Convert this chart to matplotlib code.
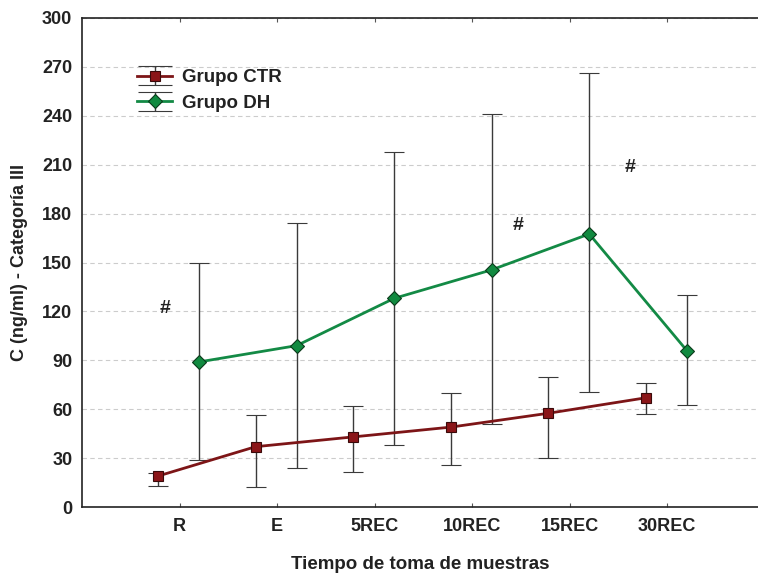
import matplotlib
matplotlib.use("Agg")
import matplotlib.pyplot as plt
from matplotlib.legend_handler import HandlerErrorbar
import numpy as np

plt.rcParams['font.family'] = ['Liberation Sans', 'DejaVu Sans']
plt.rcParams['font.weight'] = 'bold'

categories = ['R', 'E', '5REC', '10REC', '15REC', '30REC']

ctr_mean = [19, 37, 43, 49, 57.5, 67]
ctr_low = [13, 12.5, 21.5, 26, 30, 57]
ctr_high = [21, 56.5, 62, 70, 80, 76]

dh_mean = [89, 99, 128, 145.5, 167.5, 96]
dh_low = [29, 24, 38, 51, 70.5, 62.5]
dh_high = [149.5, 174, 218, 241, 266, 130]

# significance marks: (category index + offset, y)
marks_x = [-0.15, 3.47, 4.62]
marks_y = [122, 173, 208]

ctr_color = '#7d1517'
dh_color = '#138a45'
bar_color = '#3a3a3a'
txt_color = '#222222'

fig = plt.figure(figsize=(7.58, 5.75), dpi=100)
ax = fig.add_axes([82/758, 1-507/575, 1-82/758, 489/575])

x = np.arange(1, len(categories) + 1)
xc = x - 0.22
xd = x + 0.2

ctr_err = [np.array(ctr_mean) - np.array(ctr_low), np.array(ctr_high) - np.array(ctr_mean)]
dh_err = [np.array(dh_mean) - np.array(dh_low), np.array(dh_high) - np.array(dh_mean)]

ax.errorbar(xc, ctr_mean, yerr=ctr_err, color=ctr_color, lw=2, marker='s', ms=6.5,
            mfc='#8b1518', mec='#3a0a0a', mew=0.8, ecolor=bar_color, elinewidth=1,
            capsize=7.5, capthick=1, label='Grupo CTR', zorder=3)
ax.errorbar(xd, dh_mean, yerr=dh_err, color=dh_color, lw=2, marker='D', ms=7,
            mfc='#118a40', mec='#0a3a1a', mew=0.8, ecolor=bar_color, elinewidth=1,
            capsize=7.5, capthick=1, label='Grupo DH', zorder=3)

for mx, my in zip(marks_x, marks_y):
    ax.text(mx + 1, my, '#', fontsize=14, fontweight='bold', color=txt_color,
            ha='center', va='center')

ax.set_xlim(0, 6.93)
ax.set_ylim(0, 300)
ax.set_yticks(np.arange(0, 301, 30))
ax.set_xticks(x)
ax.set_xticklabels(categories)
ax.tick_params(axis='y', length=0, labelsize=13, pad=7)
ax.tick_params(axis='x', direction='in', length=3, labelsize=13, pad=8,
               top=True, width=0.8, colors='#555555')
for lab in ax.get_xticklabels() + ax.get_yticklabels():
    lab.set_color(txt_color)
    lab.set_fontweight('bold')

ax.yaxis.grid(True, linestyle=(0, (4, 3)), color='#cccccc', lw=0.8)
ax.set_axisbelow(True)
ax.spines['right'].set_visible(False)
for s in ['left', 'bottom', 'top']:
    ax.spines[s].set_color(txt_color)
    ax.spines[s].set_linewidth(1.2)

ax.set_ylabel('C (ng/ml) - Categoría III', fontsize=13, fontweight='bold',
              color=txt_color, labelpad=10)
ax.set_xlabel('Tiempo de toma de muestras', fontsize=13.5, fontweight='bold',
              color=txt_color, labelpad=15)


def wide_caps(leg_artist, orig):
    leg_artist.update_from(orig)
    if hasattr(leg_artist, 'get_marker') and leg_artist.get_marker() == '_':
        leg_artist.set_markersize(25)


leg = ax.legend(loc='upper left', bbox_to_anchor=(0.056, 0.93), frameon=False,
                fontsize=13.5, handlelength=1.9, handletextpad=0.5, labelspacing=0.45,
                handler_map={type(ax.containers[0]): HandlerErrorbar(update_func=wide_caps)})
for t in leg.get_texts():
    t.set_fontweight('bold')
    t.set_color(txt_color)

fig.savefig('out.png', dpi=100)
